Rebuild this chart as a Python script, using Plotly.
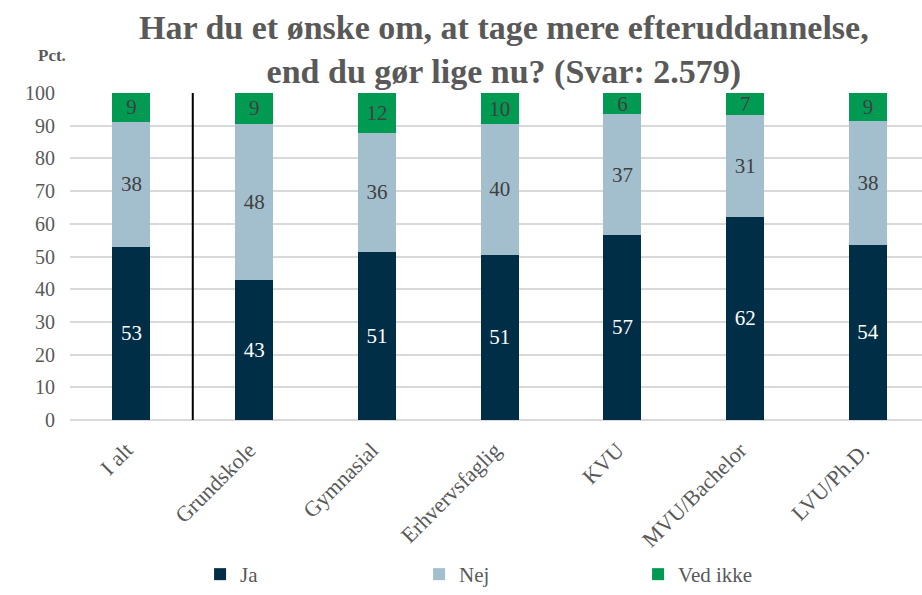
import plotly.graph_objects as go

categories = ['I alt', 'Grundskole', 'Gymnasial', 'Erhvervsfaglig', 'KVU', 'MVU/Bachelor', 'LVU/Ph.D.']
ja = [53.0, 42.8, 51.4, 50.6, 56.6, 62.2, 53.6]
nej = [38.2, 47.8, 36.4, 39.8, 36.9, 31.1, 37.8]
ved_ikke = [8.8, 9.4, 12.2, 9.6, 6.5, 6.7, 8.6]

FONT = 'Liberation Serif'
fig = go.Figure()

series = [
    ('Ja', ja, '#002E46', 'white'),
    ('Nej', nej, '#A3BFCE', '#404040'),
    ('Ved ikke', ved_ikke, '#009A52', '#404040'),
]
for name, vals, color, txtcol in series:
    fig.add_trace(go.Bar(
        x=categories, y=vals, name=name,
        marker=dict(color=color, line=dict(width=0)),
        width=0.31,
        text=[f'{v:.0f}' for v in vals],
        textposition='inside', insidetextanchor='middle',
        textangle=0, constraintext='none',
        textfont=dict(family=FONT, size=21, color=txtcol),
        hoverinfo='skip',
    ))

# separator between total and subgroups
fig.add_shape(type='line', xref='x', yref='y', x0=0.5, x1=0.5, y0=0, y1=100,
              line=dict(color='black', width=2))

fig.update_layout(
    barmode='stack',
    width=922, height=595,
    margin=dict(l=70, r=0, t=93, b=175),
    paper_bgcolor='white', plot_bgcolor='white',
    font=dict(family=FONT, color='#595959'),
    xaxis=dict(
        range=[-0.5, 6.44],
        tickangle=-45,
        tickfont=dict(family=FONT, size=22, color='#595959'),
        showgrid=False, showline=False, ticks='',
        ticklabelshift=-5, ticklabelstandoff=12,
    ),
    yaxis=dict(
        range=[0, 100], dtick=10,
        tickfont=dict(family=FONT, size=20, color='#595959'),
        gridcolor='#D9D9D9', gridwidth=2,
        zeroline=True, zerolinecolor='#D9D9D9', zerolinewidth=2,
        ticks='', ticklabelstandoff=14,
    ),
    legend=dict(
        orientation='h', x=0.217, xanchor='left', xref='container',
        y=-0.008, yanchor='bottom', yref='container',
        entrywidth=174, entrywidthmode='pixels',
        font=dict(family=FONT, size=21, color='#595959'),
        traceorder='normal',
    ),
    annotations=[
        dict(
            text='<b>Har du et ønske om, at tage mere efteruddannelse,<br>end du gør lige nu? (Svar: 2.579)</b>',
            xref='paper', yref='paper', x=0.509, y=1.133,
            xanchor='center', yanchor='middle', showarrow=False,
            font=dict(family=FONT, size=34, color='#595959'),
        ),
        dict(
            text='<b>Pct.</b>', xref='paper', yref='paper', x=-0.002, y=1.116,
            xanchor='right', yanchor='middle', showarrow=False,
            font=dict(family=FONT, size=17, color='#595959'),
        ),
    ],
)

fig.write_html('out.html', config={'displayModeBar': False},
               post_script="document.body.style.margin='0';")
